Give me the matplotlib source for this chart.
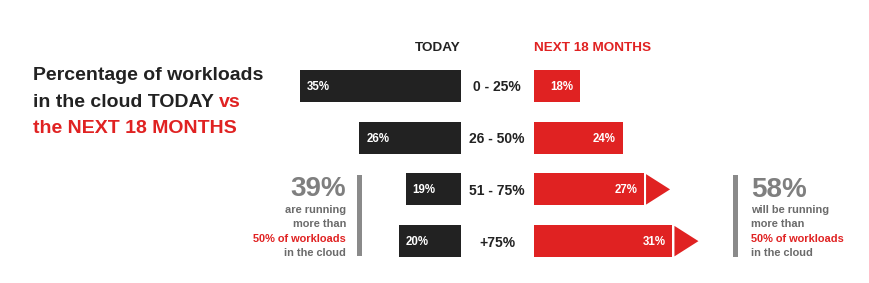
import matplotlib
matplotlib.use("Agg")
import matplotlib.pyplot as plt
from matplotlib.patches import Polygon, Rectangle

# ---------------------------------------------------------------- data
categories = ["0 - 25%", "26 - 50%", "51 - 75%", "+75%"]
today = [35, 26, 19, 20]
next18 = [18, 24, 27, 31]
highlight = [False, False, True, True]   # rows over 50% get an arrow

left_big, right_big = "39%", "58%"
left_lines = ["are running", "more than", "50% of workloads", "in the cloud"]
right_lines = ["will be running", "more than", "50% of workloads", "in the cloud"]

# ---------------------------------------------------------------- style
INK = "#222222"
RED = "#e02222"
GRAY_BIG = "#7f7f7f"
GRAY_TXT = "#6b6b6b"
RULE = "#8a8a8a"
FONT = "Liberation Sans"

W, H, DPI = 869, 283, 100
PX = 72.0 / DPI  # points per pixel

plt.rcParams["font.family"] = [FONT, "DejaVu Sans"]
plt.rcParams["font.weight"] = "bold"

fig = plt.figure(figsize=(W / DPI, H / DPI), dpi=DPI, facecolor="white")


def fx(x):
    return x / W


def fy(y):
    return 1 - y / H


def axes_px(x0, x1, y0, y1):
    ax = fig.add_axes([fx(x0), fy(y1), fx(x1 - x0), (y1 - y0) / H])
    ax.set_axis_off()
    return ax


# rows: centres at ~86, 137, 189, 241 px
ROW_TOP, ROW_BOT = 60, 267
BAR_H = 0.62

# left panel (today), bars grow leftwards from x=461 px
axl = axes_px(280, 461, ROW_TOP, ROW_BOT)
axl.set_xlim(10.65 + 181 / 6.62, 10.65)
axl.set_ylim(len(categories) - 0.5, -0.5)
axl.barh(range(len(today)), today, height=BAR_H, color=INK)
for i, v in enumerate(today):
    axl.annotate(f"{v}%", xy=(v, i), xytext=(7 * PX, -4 * PX),
                 textcoords="offset points", ha="left", va="baseline",
                 color="white", fontsize=8.3, fontweight="bold")

# right panel (next 18 months), bars grow rightwards from x=534 px
axr = axes_px(534, 720, ROW_TOP, ROW_BOT)
x0r = 11.5
scale_r = 7.1
axr.set_xlim(x0r, x0r + 186 / scale_r)
axr.set_ylim(len(categories) - 0.5, -0.5)
axr.barh(range(len(next18)), next18, height=BAR_H, color=RED)
for i, v in enumerate(next18):
    axr.annotate(f"{v}%", xy=(v, i), xytext=(-7 * PX, -4 * PX),
                 textcoords="offset points", ha="right", va="baseline",
                 color="white", fontsize=8.3, fontweight="bold")
    if highlight[i]:
        g, w = 2 / scale_r, 24 / scale_r
        h = BAR_H * 0.95
        axr.add_patch(Polygon([(v + g, i - h / 2), (v + g, i + h / 2),
                               (v + g + w, i)], closed=True,
                              facecolor=RED, edgecolor="none", clip_on=False))

# category labels between panels
for i, c in enumerate(categories):
    yc = ROW_TOP + (ROW_BOT - ROW_TOP) / len(categories) * (i + 0.5)
    fig.text(fx(497), fy(yc + 5.5), c, ha="center", va="baseline",
             color=INK, fontsize=10, fontweight="bold")

# headers
fig.text(fx(461), fy(51), "TODAY", ha="right", va="baseline",
         color=INK, fontsize=9.7, fontweight="bold")
fig.text(fx(534), fy(51), "NEXT 18 MONTHS", ha="left", va="baseline",
         color=RED, fontsize=9.7, fontweight="bold")

# title (second line mixes two colours)
TS = 14
fig.text(fx(33), fy(80), "Percentage of workloads", ha="left",
         va="baseline", color=INK, fontsize=TS, fontweight="bold")
t2 = fig.text(fx(33), fy(107), "in the cloud TODAY", ha="left",
              va="baseline", color=INK, fontsize=TS, fontweight="bold")
axr.annotate("vs", xy=(1, 0), xycoords=t2, xytext=(0.278 * TS, 0),
             textcoords="offset points", ha="left", va="bottom",
             color=RED, fontsize=TS, fontweight="bold",
             annotation_clip=False)
fig.text(fx(33), fy(133), "the NEXT 18 MONTHS", ha="left", va="baseline",
         color=RED, fontsize=TS, fontweight="bold")

# side call-outs
line_y = [213, 227, 242, 256]
fig.text(fx(346), fy(196), left_big, ha="right", va="baseline",
         color=GRAY_BIG, fontsize=20, fontweight="bold")
for y, s in zip(line_y, left_lines):
    fig.text(fx(346), fy(y), s, ha="right", va="baseline",
             color=RED if s.startswith("50%") else GRAY_TXT,
             fontsize=7.9, fontweight="bold")
fig.text(fx(751), fy(197), right_big, ha="left", va="baseline",
         color=GRAY_BIG, fontsize=20, fontweight="bold")
for y, s in zip(line_y, right_lines):
    fig.text(fx(751), fy(y), s, ha="left", va="baseline",
             color=RED if s.startswith("50%") else GRAY_TXT,
             fontsize=7.9, fontweight="bold")

# vertical rules next to the call-outs
for xr, y0, y1 in [(357, 175, 256), (733, 175, 257)]:
    fig.add_artist(Rectangle((fx(xr), fy(y1)), fx(5), (y1 - y0) / H,
                             transform=fig.transFigure, facecolor=RULE,
                             edgecolor="none"))

fig.savefig("out.png", dpi=DPI, facecolor="white")
